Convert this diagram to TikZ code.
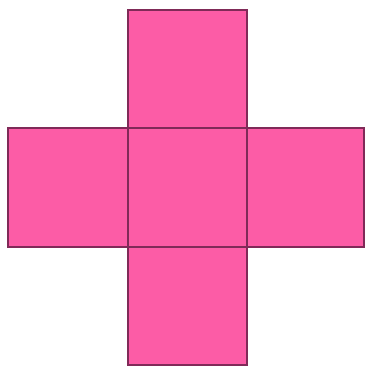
\documentclass[tikz,border=0pt]{standalone}
\begin{document}
\begin{tikzpicture}[x=1pt,y=1pt,
  sq/.style={fill=pinkfill,draw=pinkedge,line width=2.5pt}]
\definecolor{pinkfill}{RGB}{252,92,166}
\definecolor{pinkedge}{RGB}{128,42,88}
\useasboundingbox (0,0) rectangle (368,367);
\fill[white] (0,0) rectangle (368,367);
\draw[sq] (128,239) rectangle (247,357);
\draw[sq] (8,120) rectangle (128,239);
\draw[sq] (247,120) rectangle (364,239);
\draw[sq] (128,2) rectangle (247,120);
\draw[sq] (128,120) rectangle (247,239);
\end{tikzpicture}
\end{document}
